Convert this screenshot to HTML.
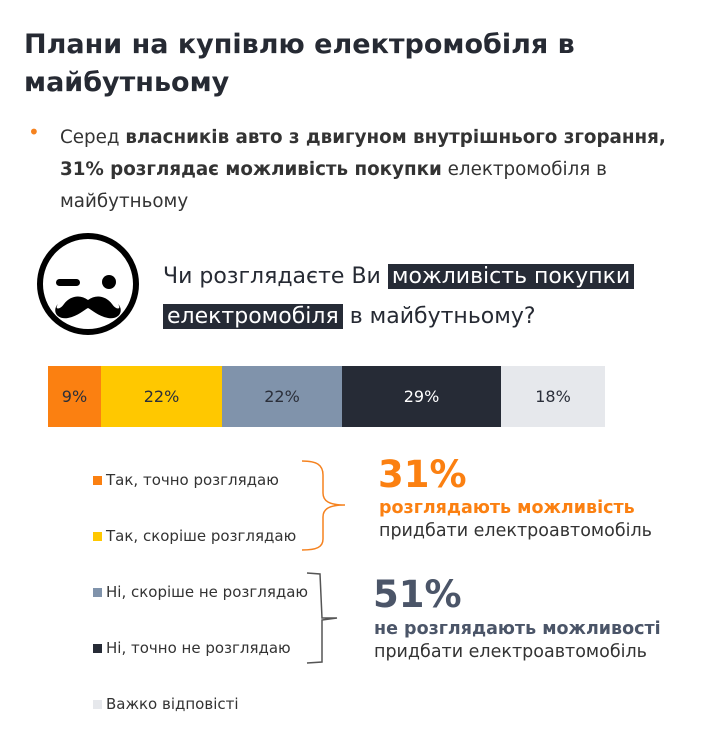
<!DOCTYPE html><html><head><meta charset="utf-8"><style>
body{margin:0;width:712px;height:734px;background:#fff;font-family:"DejaVu Sans","Liberation Sans",sans-serif;position:relative;overflow:hidden;color:#222}
.a{position:absolute;white-space:nowrap}
.seg{position:absolute;top:366px;height:61px;font-size:16px;line-height:61px;text-align:center;color:#2b2f3a}
.sq{display:inline-block;width:9px;height:9px;margin-right:4px}
.lg{font-size:15px;color:#333}
</style></head><body>
<div class="a" style="left:24px;top:26px;font-size:27px;font-weight:bold;line-height:38px;color:#262a33">Плани на купівлю електромобіля в<br>майбутньому</div>
<div class="a" style="left:28px;top:120px;color:#f5821f;font-size:20px">•</div>
<div class="a" style="left:60px;top:122px;font-size:18.3px;line-height:32px;color:#333">Серед <b>власників авто з двигуном внутрішнього згорання,</b><br><b>31% розглядає можливість покупки</b> електромобіля в<br>майбутньому</div>
<svg class="a" style="left:30px;top:228px" width="120" height="120"><circle cx="58" cy="56" r="48" fill="none" stroke="#000" stroke-width="6"/><rect x="26" y="51" width="24" height="7" rx="3.5"/><circle cx="79" cy="54" r="7"/><path d="M58 72 C50 66 40 68 34 76 C30 82 24 82 28 76 C22 82 26 92 38 90 C48 88 54 82 58 80 C62 82 68 88 78 90 C90 92 94 82 88 76 C92 82 86 82 82 76 C76 68 66 66 58 72Z"/></svg>
<div class="a" style="left:163px;top:257px;font-size:22px;line-height:40px;color:#262a33">Чи розглядаєте Ви <span style="background:#262b36;color:#fff;padding:0 4px">можливість покупки</span><br><span style="background:#262b36;color:#fff;padding:0 4px">електромобіля</span> в майбутньому?</div>
<div class="seg" style="left:48px;width:53px;background:#fb8011">9%</div>
<div class="seg" style="left:101px;width:121px;background:#ffc800">22%</div>
<div class="seg" style="left:222px;width:120px;background:#8093ab">22%</div>
<div class="seg" style="left:342px;width:159px;background:#262b36;color:#fff">29%</div>
<div class="seg" style="left:501px;width:104px;background:#e6e8ec">18%</div>
<div class="a lg" style="left:93px;top:471px"><span class="sq" style="background:#fb8011"></span>Так, точно розглядаю</div>
<div class="a lg" style="left:93px;top:527px"><span class="sq" style="background:#ffc800"></span>Так, скоріше розглядаю</div>
<div class="a lg" style="left:93px;top:583px"><span class="sq" style="background:#8093ab"></span>Ні, скоріше не розглядаю</div>
<div class="a lg" style="left:93px;top:639px"><span class="sq" style="background:#262b36"></span>Ні, точно не розглядаю</div>
<div class="a lg" style="left:93px;top:695px"><span class="sq" style="background:#e6e8ec"></span>Важко відповісті</div>
<svg class="a" style="left:265px;top:455px" width="90" height="215" fill="none"><path d="M37 6 C52 6 58 10 58 20 L58 38 C58 46 64 50 80 50 C64 50 58 54 58 62 L58 84 C58 92 52 95 37 95" stroke="#f5821f" stroke-width="1.5"/><path d="M42 118 L55 119 L57 163 L72 163 L57 165 L57 207 L42 208" stroke="#555" stroke-width="1.5"/></svg>
<div class="a" style="left:378px;top:453px;font-size:37px;font-weight:bold;color:#fb8011">31%</div>
<div class="a" style="left:379px;top:498px;font-size:17.5px;font-weight:bold;color:#fb8011">розглядають можливість</div>
<div class="a" style="left:379px;top:521px;font-size:17.5px;color:#333">придбати електроавтомобіль</div>
<div class="a" style="left:373px;top:573px;font-size:37px;font-weight:bold;color:#4b5568">51%</div>
<div class="a" style="left:374px;top:619px;font-size:17.5px;font-weight:bold;color:#4b5568">не розглядають можливості</div>
<div class="a" style="left:374px;top:642px;font-size:17.5px;color:#333">придбати електроавтомобіль</div>
</body></html>
